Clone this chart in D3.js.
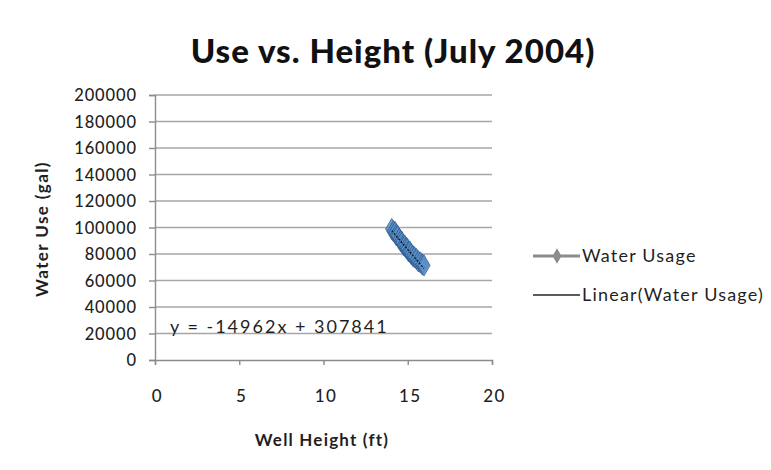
<!DOCTYPE html>
<html>
<head>
<meta charset="utf-8">
<script src="https://cdn.jsdelivr.net/npm/d3@7"></script>
<style>
  html, body { margin: 0; padding: 0; background: #fff; }
  svg { display: block; font-family: Lato, "Open Sans", sans-serif; }
</style>
</head>
<body>
<svg id="chart" width="771" height="470"></svg>
<script>
// Well height (ft) and daily water usage (gal), July 2004
const wellHeight = [14.05, 14.15, 14.25, 14.32, 14.40, 14.50, 14.58, 14.66, 14.75, 14.82,
                    14.90, 14.98, 15.05, 15.12, 15.20, 15.30, 15.40, 15.52, 15.63, 15.75, 15.86, 15.96];
const waterUse   = [98800, 97200, 96500, 94200, 93600, 91400, 89800, 88900, 86600, 86200,
                    84800, 83900, 82000, 81800, 80100, 78600, 77500, 76200, 74500, 73600, 72100, 71400];
const trendSlope = -14962;
const trendIntercept = 307841;
const xTicks = [0, 5, 10, 15, 20];
const yTicks = [0, 20000, 40000, 60000, 80000, 100000, 120000, 140000, 160000, 180000, 200000];
const legendLabels = ["Water Usage", "Linear(Water Usage)"];

const svg = d3.select("#chart");
const plot = { left: 155, right: 492, top: 95, bottom: 360 };

const x = d3.scaleLinear().domain([0, 20]).range([plot.left, plot.right]);
const y = d3.scaleLinear().domain([0, 200000]).range([plot.bottom, plot.top]);

const gridColor = "#a6a6a6";
const textColor = "#1f1f1f";

// horizontal gridlines
svg.append("g").selectAll("line").data(yTicks.filter(d => d > 0)).join("line")
  .attr("x1", plot.left).attr("x2", plot.right)
  .attr("y1", d => y(d)).attr("y2", d => y(d))
  .attr("stroke", gridColor).attr("stroke-width", 1.4);

// y axis
const yAxis = svg.append("g").attr("transform", `translate(${plot.left},0)`)
  .call(d3.axisLeft(y).tickValues(yTicks).tickSize(6).tickPadding(12).tickFormat(d3.format("d")));
yAxis.select(".domain").attr("stroke", "#8c8c8c").attr("stroke-width", 1.4);
yAxis.selectAll(".tick line").attr("stroke", "#8c8c8c").attr("stroke-width", 1.4);
yAxis.selectAll("text").attr("fill", textColor).attr("dy", "0.36em")
  .style("font-size", "16.5px").style("letter-spacing", "0.9px").style("font-weight", "500")
  .style("font-family", "Lato, sans-serif");

// x axis
const xAxis = svg.append("g").attr("transform", `translate(0,${plot.bottom})`)
  .call(d3.axisBottom(x).tickValues(xTicks).tickSize(5).tickPadding(25));
xAxis.select(".domain").attr("stroke", "#8c8c8c").attr("stroke-width", 1.4);
xAxis.selectAll(".tick line").attr("stroke", "#8c8c8c").attr("stroke-width", 1.4);
xAxis.selectAll("text").attr("fill", textColor).attr("dx", "2px")
  .style("font-size", "17px").style("letter-spacing", "1.5px").style("font-weight", "500")
  .style("font-family", "Lato, sans-serif");

// data markers
const diamond = d3.symbol().type(d3.symbolDiamond).size(130);
svg.append("g").selectAll("path").data(wellHeight.map((h, i) => [h, waterUse[i]])).join("path")
  .attr("d", diamond)
  .attr("transform", d => `translate(${x(d[0])},${y(d[1])})`)
  .attr("fill", "#5b8fc9").attr("stroke", "#2f5f93").attr("stroke-width", 1)
  .attr("opacity", 0.85);

// linear trendline over the data range
const xr = d3.extent(wellHeight);
svg.append("line")
  .attr("x1", x(xr[0])).attr("y1", y(trendSlope * xr[0] + trendIntercept))
  .attr("x2", x(xr[1])).attr("y2", y(trendSlope * xr[1] + trendIntercept))
  .attr("stroke", "#141414").attr("stroke-width", 1.3).attr("stroke-dasharray", "2,1.5");

// trendline equation
svg.append("text").attr("x", 170).attr("y", 333)
  .attr("fill", textColor).style("font-size", "18px").style("letter-spacing", "2px")
  .text(`y = ${trendSlope}x + ${trendIntercept}`);

// title
svg.append("text").attr("x", 393).attr("y", 63).attr("text-anchor", "middle")
  .attr("fill", "#111").style("font-size", "33px").style("font-weight", "900")
  .style("letter-spacing", "1px")
  .text("Use vs. Height (July 2004)");

// axis titles
svg.append("text").attr("x", 322).attr("y", 446).attr("text-anchor", "middle")
  .attr("fill", textColor).style("font-size", "17px").style("font-weight", "bold")
  .style("letter-spacing", "1.2px")
  .text("Well Height (ft)");
svg.append("text").attr("transform", "translate(48,229) rotate(-90)").attr("text-anchor", "middle")
  .attr("fill", textColor).style("font-size", "17px").style("font-weight", "bold")
  .style("letter-spacing", "1.4px")
  .text("Water Use (gal)");

// legend
const legend = svg.append("g");
const ly = [256, 295];
legend.append("line").attr("x1", 533).attr("x2", 580).attr("y1", ly[0]).attr("y2", ly[0])
  .attr("stroke", "#8c8c8c").attr("stroke-width", 3);
legend.append("path").attr("d", d3.symbol().type(d3.symbolDiamond).size(70))
  .attr("transform", `translate(557,${ly[0]})`).attr("fill", "#8c8c8c");
legend.append("line").attr("x1", 533).attr("x2", 580).attr("y1", ly[1]).attr("y2", ly[1])
  .attr("stroke", "#262626").attr("stroke-width", 1.6);
legend.selectAll("text").data(legendLabels).join("text")
  .attr("x", 582).attr("y", (d, i) => ly[i] + 6)
  .attr("fill", textColor).style("font-size", "18px").style("letter-spacing", "1.2px")
  .text(d => d);
</script>
</body>
</html>
